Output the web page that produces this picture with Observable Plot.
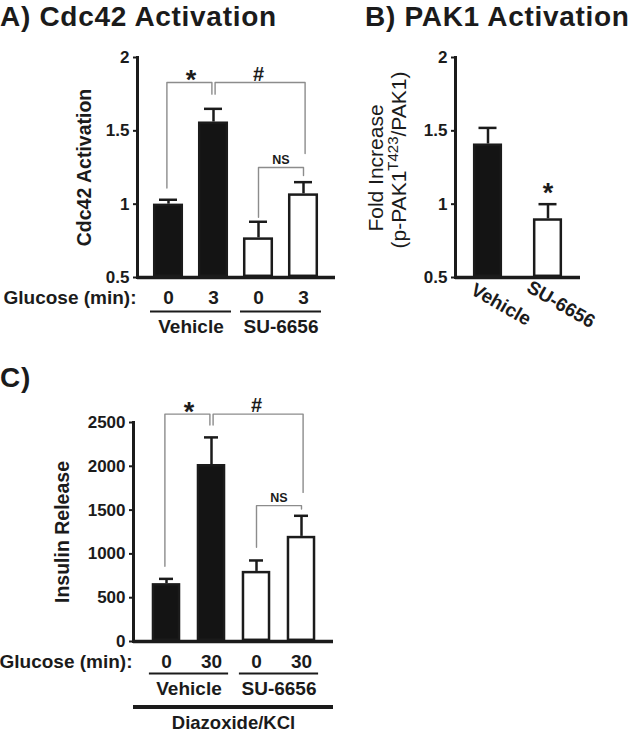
<!DOCTYPE html>
<html>
<head>
<meta charset="utf-8">
<script src="https://cdn.jsdelivr.net/npm/d3@7"></script>
<script src="https://cdn.jsdelivr.net/npm/@observablehq/plot@0.6"></script>
<style>
  html, body { margin: 0; padding: 0; background: #ffffff; }
  #fig { position: relative; width: 633px; height: 735px; overflow: hidden;
         font-family: "Liberation Sans", Arial, Helvetica, sans-serif; color: #1b1b1b; }
  #fig svg { position: absolute; overflow: visible; }
  .title { position: absolute; font-weight: bold; font-size: 28px; letter-spacing: 0.7px;
           line-height: 1; white-space: nowrap; }
  .rot { position: absolute; white-space: nowrap; line-height: 1; font-size: 21px;
         transform: translate(-50%, -50%) rotate(-90deg); }
  .sup { font-size: 15px; position: relative; top: -8px; }
</style>
</head>
<body>
<div id="fig">
  <div class="title" style="left:0px; top:3px;">A) Cdc42 Activation</div>
  <div class="title" style="left:365px; top:3px;">B) PAK1 Activation</div>
  <div class="title" style="left:0px; top:364px;">C)</div>
  <div class="rot" style="left:375px; top:168px;">Fold Increase</div>
  <div class="rot" style="left:398px; top:160px;">(p-PAK1<span class="sup">T423</span>/PAK1)</div>
</div>
<script>
// ---------- Panel A: Cdc42 activation ----------
const aGlucose   = ["0", "3", "0", "3"];
const aTreatment = ["Vehicle", "Vehicle", "SU-6656", "SU-6656"];
const aValues    = [1.00, 1.56, 0.77, 1.07];
const aErrors    = [0.03, 0.09, 0.11, 0.08];
const aTicks     = [0.5, 1, 1.5, 2];
const aYLabel    = "Cdc42 Activation";
// significance brackets (bar index from/to, heights in data units)
const aBrFrom    = [1, 2, 3];
const aBrTo      = [2, 4, 4];
const aBrTop     = [1.83, 1.83, 1.25];
const aBrLeftEnd = [1.11, 1.75, 0.91];
const aBrRightEnd= [1.75, 1.345, 1.195];
const aBrLabel   = ["*", "#", "NS"];

// ---------- Panel B: PAK1 activation ----------
const bTreatment = ["Vehicle", "SU-6656"];
const bValues    = [1.41, 0.90];
const bErrors    = [0.11, 0.10];
const bSig       = ["", "*"];
const bTicks     = [0.5, 1, 1.5, 2];

// ---------- Panel C: insulin release ----------
const cGlucose   = ["0", "30", "0", "30"];
const cTreatment = ["Vehicle", "Vehicle", "SU-6656", "SU-6656"];
const cValues    = [660, 2020, 800, 1200];
const cErrors    = [55, 310, 125, 235];
const cTicks     = [0, 500, 1000, 1500, 2000, 2500];
const cYLabel    = "Insulin Release";
const cBrFrom    = [1, 2, 3];
const cBrTo      = [2, 4, 4];
const cBrTop     = [2596, 2596, 1551];
const cBrLeftEnd = [859, 2471, 1075];
const cBrRightEnd= [2471, 1702, 1513];
const cBrLabel   = ["*", "#", "NS"];
const cCondition = "Diazoxide/KCl";

const xRowLabel  = "Glucose (min):";

// ---------- styling ----------
const ink = "#1b1b1b";
const barBlack = "#141414";
const grey = "#8c8c8c";
const FONT = "Liberation Sans, Arial, Helvetica, sans-serif";
const fillFor = {"Vehicle": barBlack, "SU-6656": "#ffffff"};
const bracketNudge = [-1.6, 1.6, 0];
const labelStyle = {
  "*":  {fontSize: 27, dy: -2},
  "#":  {fontSize: 20, dy: -8},
  "NS": {fontSize: 12.5, dy: -8}
};

function rows(glucose, treatment, values, errors, sig) {
  return values.map((v, i) => ({
    pos: i + 1,
    glucose: glucose ? glucose[i] : "",
    group: treatment[i],
    value: v,
    error: errors[i],
    sig: sig ? sig[i] : ""
  }));
}
function groupsOf(data) {
  return d3.groups(data, d => d.group).map(([name, rs]) => ({
    name,
    start: d3.min(rs, d => d.pos),
    end: d3.max(rs, d => d.pos),
    mid: d3.mean(rs, d => d.pos)
  }));
}
function brackets(from, to, top, le, re, labels) {
  return from.map((f, i) => ({from: f, to: to[i], top: top[i], leftEnd: le[i], rightEnd: re[i], label: labels[i]}));
}
function bracketMarks(brs) {
  return brs.flatMap((b, k) => [
    Plot.line([[b.from, b.leftEnd], [b.from, b.top], [b.to, b.top], [b.to, b.rightEnd]],
      {x: p => p[0], y: p => p[1], stroke: grey, strokeWidth: 1.4, dx: bracketNudge[k]}),
    Plot.text([b], {x: d => (d.from + d.to) / 2, y: "top", text: "label",
      fontSize: labelStyle[b.label].fontSize, dy: labelStyle[b.label].dy,
      fontWeight: "bold", fill: ink, textAnchor: "middle", lineAnchor: "middle"})
  ]);
}

function panel(o) {
  const yMin = o.yDomain[0];
  const d = o.data;
  const marks = [
    // error bars (upper only)
    Plot.ruleX(d, {x: "pos", y1: "value", y2: r => r.value + r.error, stroke: ink, strokeWidth: 2.5}),
    Plot.ruleY(d, {y: r => r.value + r.error, x1: r => r.pos - o.capHalf, x2: r => r.pos + o.capHalf,
      stroke: ink, strokeWidth: 2.5}),
    // bars
    Plot.rect(d, {x1: r => r.pos - o.halfBar, x2: r => r.pos + o.halfBar, y1: () => yMin, y2: "value",
      fill: r => fillFor[r.group], stroke: ink, strokeWidth: 2.5, inset: 1.2}),
    // axis lines
    Plot.frame({anchor: "left", stroke: ink, strokeWidth: 3}),
    Plot.ruleY([yMin], {stroke: ink, strokeWidth: 3.5}),
    Plot.axisY({ticks: o.yTicks, tickFormat: v => String(v), tickSize: 4, tickPadding: 4,
      fontSize: 17, fontWeight: "bold", stroke: ink, strokeWidth: 2, fill: ink, label: null}),
  ];
  if (o.yLabel) {
    marks.push(Plot.text([o.yLabel], {text: t => t, frameAnchor: "left", dx: o.yLabelDx, rotate: -90,
      textAnchor: "middle", lineAnchor: "middle", fontSize: 19.5, fontWeight: "bold", fill: ink}));
  }
  if (o.brackets) marks.push(...bracketMarks(o.brackets));
  if (o.extra) marks.push(...o.extra(yMin));
  const svg = Plot.plot({
    width: o.width, height: o.height,
    marginLeft: o.m[0], marginRight: o.m[1], marginTop: o.m[2], marginBottom: o.m[3],
    x: {domain: o.xDomain, range: o.xRange, axis: null},
    y: {domain: o.yDomain},
    color: {type: "identity"},
    style: {fontFamily: FONT, color: ink, background: "transparent", overflow: "visible"},
    marks
  });
  svg.style.position = "absolute";
  svg.style.left = o.left + "px";
  svg.style.top = o.top + "px";
  return svg;
}

function categoryRows(data, groups, s, yMin) {
  return [
    Plot.text(data, {x: "pos", y: () => yMin, text: "glucose", dy: s.tickDy,
      fontSize: 19, fontWeight: "bold", fill: ink, lineAnchor: "middle"}),
    Plot.text([xRowLabel], {text: t => t, frameAnchor: "bottom-left", textAnchor: "end",
      dy: s.tickDy, dx: -1, fontSize: 19, fontWeight: "bold", fill: ink, lineAnchor: "middle"}),
    Plot.ruleY(groups, {y: () => yMin, x1: g => g.start - s.ext, x2: g => g.end + s.ext,
      dy: s.lineDy, stroke: ink, strokeWidth: 2}),
    Plot.text(groups, {x: "mid", y: () => yMin, text: "name", dy: s.groupDy,
      fontSize: 19, fontWeight: "bold", fill: ink, lineAnchor: "middle"})
  ];
}

const fig = document.getElementById("fig");

// Panel A
const aData = rows(aGlucose, aTreatment, aValues, aErrors);
const aGroups = groupsOf(aData);
fig.appendChild(panel({
  data: aData, yDomain: [0.5, 2], yTicks: aTicks, yLabel: aYLabel, yLabelDx: -53,
  xDomain: [1, 4], xRange: [168, 303], halfBar: 0.333, capHalf: 0.2,
  width: 345, height: 345, m: [137, 10, 57, 68], left: 0, top: 0,
  brackets: brackets(aBrFrom, aBrTo, aBrTop, aBrLeftEnd, aBrRightEnd, aBrLabel),
  extra: yMin => categoryRows(aData, aGroups, {tickDy: 20.5, lineDy: 34, groupDy: 49.5, ext: 0.4}, yMin)
}));

// Panel B
const bData = rows(null, bTreatment, bValues, bErrors, bSig);
fig.appendChild(panel({
  data: bData, yDomain: [0.5, 2], yTicks: bTicks,
  xDomain: [1, 2], xRange: [157.5, 217.5], halfBar: 0.242, capHalf: 0.15,
  width: 303, height: 345, m: [125, 53, 57, 68], left: 330, top: 0,
  extra: yMin => [
    Plot.text(bData, {x: "pos", y: () => yMin, text: "group", rotate: 30, dx: 13, dy: 27,
      textAnchor: "middle", lineAnchor: "middle", fontSize: 19, fontWeight: "bold", fill: ink}),
    Plot.text(bData.filter(r => r.sig), {x: "pos", y: r => r.value + r.error, text: "sig", dy: -11,
      textAnchor: "middle", lineAnchor: "middle", fontSize: 27, fontWeight: "bold", fill: ink})
  ]
}));

// Panel C
const cData = rows(cGlucose, cTreatment, cValues, cErrors);
const cGroups = groupsOf(cData);
fig.appendChild(panel({
  data: cData, yDomain: [0, 2500], yTicks: cTicks, yLabel: cYLabel, yLabelDx: -71,
  xDomain: [1, 4], xRange: [166, 301], halfBar: 0.316, capHalf: 0.156,
  width: 345, height: 375, m: [133, 12, 62, 94], left: 0, top: 360,
  brackets: brackets(cBrFrom, cBrTo, cBrTop, cBrLeftEnd, cBrRightEnd, cBrLabel),
  extra: yMin => [
    ...categoryRows(cData, cGroups, {tickDy: 20, lineDy: 32, groupDy: 47.5, ext: 0.38}, yMin),
    Plot.ruleY([yMin], {dy: 65.5, stroke: ink, strokeWidth: 4}),
    Plot.text([cCondition], {text: t => t, frameAnchor: "bottom", dy: 81.5, fontSize: 18.5,
      fontWeight: "bold", fill: ink, lineAnchor: "middle"})
  ]
}));
</script>
</body>
</html>
